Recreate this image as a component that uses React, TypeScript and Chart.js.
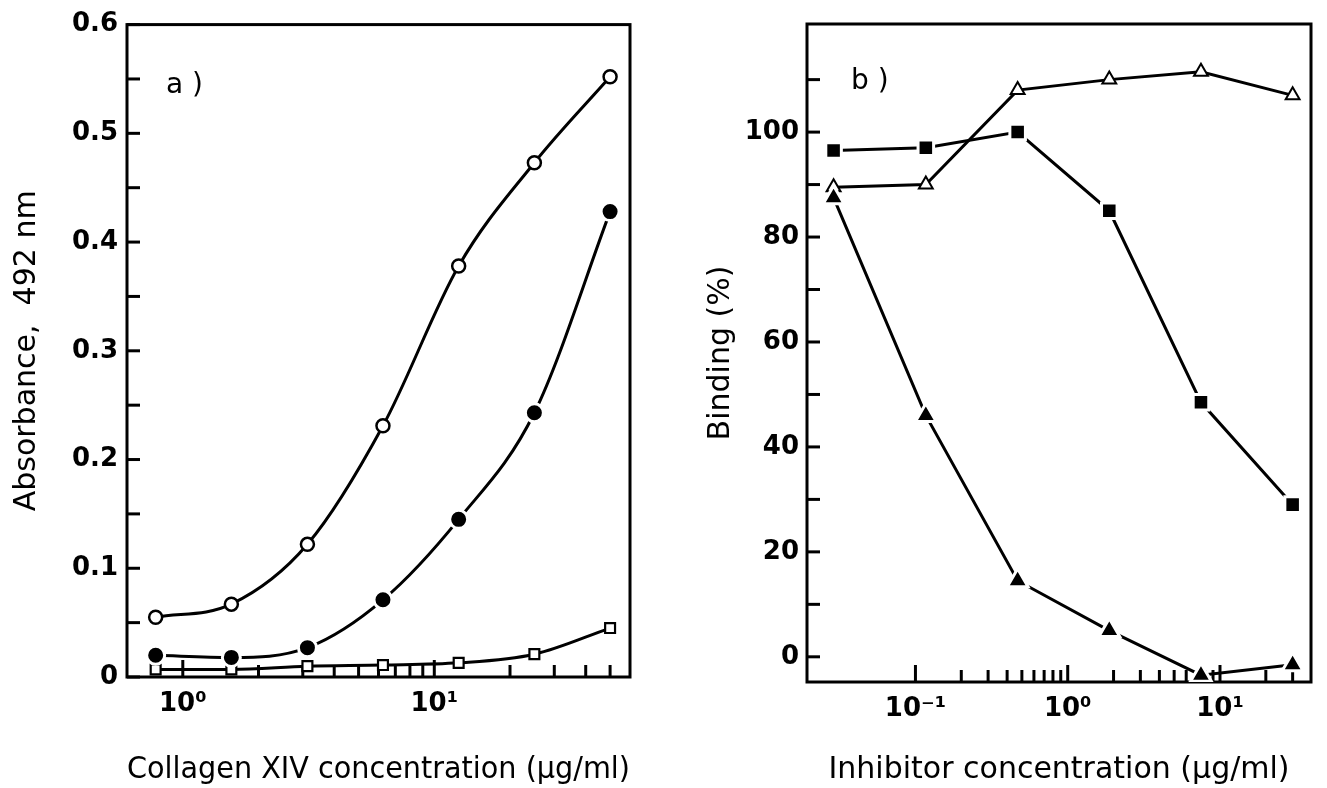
import { useEffect, useRef } from 'react';
import { Chart, registerables } from 'chart.js';

Chart.register(...registerables);

// ---- Panel a) data ----
const collagenConc = [0.78, 1.56, 3.13, 6.25, 12.5, 25, 50];
const absOpenCircle = [0.055, 0.067, 0.122, 0.231, 0.378, 0.473, 0.552];
const absFilledCircle = [0.02, 0.018, 0.027, 0.071, 0.145, 0.243, 0.428];
const absOpenSquare = [0.007, 0.007, 0.01, 0.011, 0.013, 0.021, 0.045];
const collagenTicks = [1, 2, 3, 4, 5, 6, 7, 8, 9, 10, 20, 30, 40, 50];

// ---- Panel b) data ----
const inhibitorConc = [0.029, 0.117, 0.469, 1.875, 7.5, 30];
const bindFilledSquare = [96.5, 97, 100, 85, 48.5, 29];
const bindOpenTriangle = [89.5, 90, 108, 110, 111.5, 107];
const bindFilledTriangle = [87.5, 46, 14.5, 5, -3.5, -1.5];
const inhibitorTicks = [0.1, 0.2, 0.3, 0.4, 0.5, 0.6, 0.7, 0.8, 0.9, 1, 2, 3, 4, 5, 6, 7, 8, 9, 10, 20, 30];

const TICK_FONT = { family: '"DejaVu Sans", sans-serif', size: 26, weight: 'bold' as const };
const TITLE_FONT = { family: '"DejaVu Sans", sans-serif', size: 30, weight: 'normal' as const };

const supMap: Record<string, string> = { '0': '⁰', '1': '¹', '2': '²', '-': '⁻' };
function powLabel(v: number): string {
  const l = Math.log10(v);
  const r = Math.round(l);
  if (Math.abs(l - r) < 1e-6) {
    return '10' + String(r).split('').map((c) => supMap[c] ?? c).join('');
  }
  return '';
}

function framePlugin(tag: string, dx: number, dy: number) {
  return {
    id: 'frameTicks',
    beforeDatasetsDraw(chart: any) {
      const { ctx, chartArea: a } = chart;
      const xs = chart.scales.x;
      const ys = chart.scales.y;
      ctx.save();
      ctx.strokeStyle = '#000';
      ctx.lineWidth = 3;
      ctx.lineCap = 'butt';
      for (const t of xs.ticks) {
        const px = xs.getPixelForValue(t.value);
        const l = Math.log10(t.value);
        const len = Math.abs(l - Math.round(l)) < 1e-6 ? 17 : 12;
        ctx.beginPath();
        ctx.moveTo(px, a.bottom);
        ctx.lineTo(px, a.bottom - len);
        ctx.stroke();
      }
      for (const t of ys.ticks) {
        const py = ys.getPixelForValue(t.value);
        ctx.beginPath();
        ctx.moveTo(a.left, py);
        ctx.lineTo(a.left + 13, py);
        ctx.stroke();
      }
      ctx.strokeRect(a.left, a.top, a.right - a.left, a.bottom - a.top);
      ctx.fillStyle = '#000';
      ctx.font = '28px "DejaVu Sans"';
      ctx.textBaseline = 'middle';
      ctx.textAlign = 'left';
      ctx.fillText(tag, a.left + dx, a.top + dy);
      ctx.restore();
    },
  };
}

export default function App() {
  const leftRef = useRef<HTMLCanvasElement>(null);
  const rightRef = useRef<HTMLCanvasElement>(null);

  useEffect(() => {
    Chart.defaults.color = '#000';
    Chart.defaults.font.family = '"DejaVu Sans", sans-serif';

    const left = new Chart(leftRef.current!, {
      type: 'line',
      data: {
        datasets: [
          {
            data: collagenConc.map((x, i) => ({ x, y: absFilledCircle[i] })),
            borderColor: '#000',
            borderWidth: 3,
            cubicInterpolationMode: 'monotone',
            pointStyle: 'circle',
            pointRadius: 9,
            pointBackgroundColor: '#000',
            pointBorderColor: '#fff',
            pointBorderWidth: 3,
          },
          {
            data: collagenConc.map((x, i) => ({ x, y: absOpenCircle[i] })),
            borderColor: '#000',
            borderWidth: 3,
            cubicInterpolationMode: 'monotone',
            pointStyle: 'circle',
            pointRadius: 6.5,
            pointBackgroundColor: '#fff',
            pointBorderColor: '#000',
            pointBorderWidth: 2.5,
          },
          {
            data: collagenConc.map((x, i) => ({ x, y: absOpenSquare[i] })),
            borderColor: '#000',
            borderWidth: 3,
            cubicInterpolationMode: 'monotone',
            pointStyle: 'rect',
            pointRadius: 7,
            pointBackgroundColor: '#fff',
            pointBorderColor: '#000',
            pointBorderWidth: 2.2,
          },
        ],
      },
      options: {
        animation: false,
        responsive: false,
        layout: { padding: { left: 0, top: 23, right: 30, bottom: 0 } },
        plugins: { legend: { display: false }, tooltip: { enabled: false } },
        scales: {
          x: {
            type: 'logarithmic',
            min: 0.6,
            max: 60,
            afterBuildTicks: (s: any) => {
              s.ticks = collagenTicks.map((v) => ({ value: v }));
            },
            afterFit: (s: any) => {
              s.height = 111;
            },
            grid: { display: false, drawTicks: false },
            border: { display: false },
            ticks: {
              autoSkip: false,
              maxRotation: 0,
              padding: 12,
              font: TICK_FONT,
              callback: (v: any) => powLabel(Number(v)),
            },
            title: {
              display: true,
              text: 'Collagen XIV concentration (µg/ml)',
              font: TITLE_FONT,
              padding: { top: 0, bottom: 0 },
            },
          },
          y: {
            type: 'linear',
            min: 0,
            max: 0.6,
            afterFit: (s: any) => {
              s.width = 127;
            },
            grid: { display: false, drawTicks: false },
            border: { display: false },
            ticks: {
              stepSize: 0.05,
              padding: 9,
              font: TICK_FONT,
              callback: (v: any) => {
                const r = Math.round(Number(v) * 100);
                if (r % 10 !== 0) return '';
                return r === 0 ? '0' : (r / 100).toFixed(1);
              },
            },
            title: {
              display: true,
              text: 'Absorbance,  492 nm',
              font: TITLE_FONT,
              padding: { top: 9, bottom: 0 },
            },
          },
        },
      },
      plugins: [framePlugin('a )', 39, 61)],
    } as any);

    const right = new Chart(rightRef.current!, {
      type: 'line',
      data: {
        datasets: [
          {
            data: inhibitorConc.map((x, i) => ({ x, y: bindFilledTriangle[i] })),
            borderColor: '#000',
            borderWidth: 3,
            tension: 0,
            pointStyle: 'triangle',
            pointRadius: 12,
            pointBackgroundColor: '#000',
            pointBorderColor: '#fff',
            pointBorderWidth: 3,
          },
          {
            data: inhibitorConc.map((x, i) => ({ x, y: bindFilledSquare[i] })),
            borderColor: '#000',
            borderWidth: 3,
            tension: 0,
            pointStyle: 'rect',
            pointRadius: 11,
            pointBackgroundColor: '#000',
            pointBorderColor: '#fff',
            pointBorderWidth: 3,
          },
          {
            data: inhibitorConc.map((x, i) => ({ x, y: bindOpenTriangle[i] })),
            borderColor: '#000',
            borderWidth: 3,
            tension: 0,
            pointStyle: 'triangle',
            pointRadius: 8,
            pointBackgroundColor: '#fff',
            pointBorderColor: '#000',
            pointBorderWidth: 2,
          },
        ],
      },
      options: {
        animation: false,
        responsive: false,
        layout: { padding: { left: 0, top: 24, right: 16, bottom: 0 } },
        plugins: { legend: { display: false }, tooltip: { enabled: false } },
        scales: {
          x: {
            type: 'logarithmic',
            min: 0.0194,
            max: 39.6,
            afterBuildTicks: (s: any) => {
              s.ticks = inhibitorTicks.map((v) => ({ value: v }));
            },
            afterFit: (s: any) => {
              s.height = 106;
            },
            grid: { display: false, drawTicks: false },
            border: { display: false },
            ticks: {
              autoSkip: false,
              maxRotation: 0,
              padding: 12,
              font: TICK_FONT,
              callback: (v: any) => powLabel(Number(v)),
            },
            title: {
              display: true,
              text: 'Inhibitor concentration (µg/ml)',
              font: TITLE_FONT,
              padding: { top: 0, bottom: 0 },
            },
          },
          y: {
            type: 'linear',
            min: -4.8,
            max: 120.6,
            afterBuildTicks: (s: any) => {
              s.ticks = s.ticks.filter((t: any) => t.value >= -0.01 && t.value <= 110.01);
            },
            afterFit: (s: any) => {
              s.width = 147;
            },
            grid: { display: false, drawTicks: false },
            border: { display: false },
            ticks: {
              stepSize: 10,
              includeBounds: false,
              padding: 8,
              font: TICK_FONT,
              callback: (v: any) => {
                const n = Math.round(Number(v));
                return n % 20 === 0 && n <= 100 ? String(n) : '';
              },
            },
            title: {
              display: true,
              text: 'Binding (%)',
              font: TITLE_FONT,
              padding: { top: 43, bottom: 0 },
            },
          },
        },
      },
      plugins: [framePlugin('b )', 44, 58)],
    } as any);

    return () => {
      left.destroy();
      right.destroy();
    };
  }, []);

  return (
    <div style={{ position: 'fixed', left: 0, top: 0, width: 1327, height: 788, background: '#fff' }}>
      <canvas
        ref={leftRef}
        width={660}
        height={788}
        style={{ position: 'absolute', left: 0, top: 0, width: 660, height: 788 }}
      />
      <canvas
        ref={rightRef}
        width={667}
        height={788}
        style={{ position: 'absolute', left: 660, top: 0, width: 667, height: 788 }}
      />
    </div>
  );
}
